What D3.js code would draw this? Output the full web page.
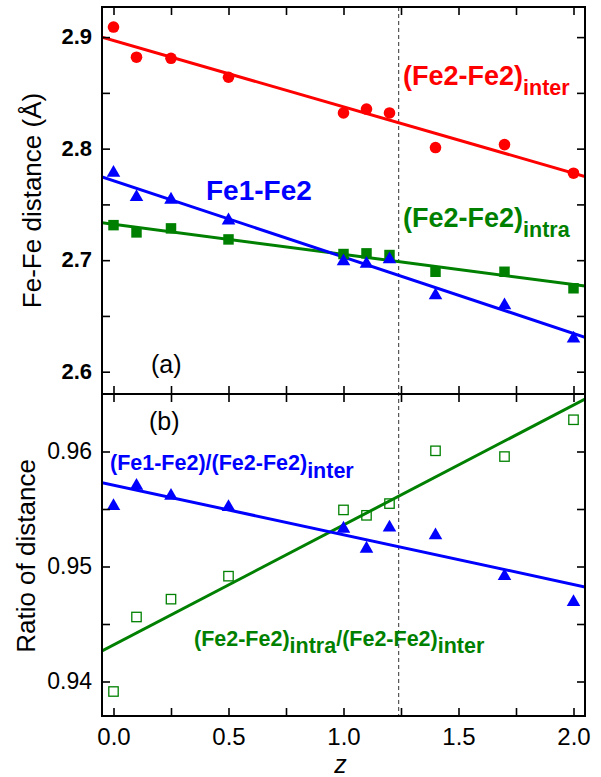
<!DOCTYPE html>
<html>
<head>
<meta charset="utf-8">
<script src="https://cdn.jsdelivr.net/npm/d3@7"></script>
<style>
  body { margin: 0; background: #fff; }
  text { font-family: "Liberation Sans", Arial, sans-serif; }
</style>
</head>
<body>
<div id="chart"></div>
<script>
// data
var zVals = [0, 0.1, 0.25, 0.5, 1.0, 1.1, 1.2, 1.4, 1.7, 2.0];
var interDist = [2.909, 2.882, 2.881, 2.864, 2.832, 2.8355, 2.832, 2.801, 2.8036, 2.778];
var fe1fe2Dist = [2.780, 2.7583, 2.756, 2.7374, 2.7007, 2.6986, 2.7025, 2.6703, 2.6613, 2.6314];
var intraDist = [2.7314, 2.7249, 2.7285, 2.7186, 2.7055, 2.7061, 2.7046, 2.6896, 2.6896, 2.6748];
var ratioFe1 = [0.95542, 0.95718, 0.95631, 0.95535, 0.95346, 0.95172, 0.95355, 0.95289, 0.94934, 0.94707];
var ratioIntra = [0.93913, 0.94561, 0.94716, 0.94916, 0.95492, 0.95445, 0.95547, 0.96006, 0.95956, 0.96276];

// linear fits [intercept, slope]
var interFit = [2.897, -0.0595];
var fe1Fit = [2.7713, -0.0685];
var intraFit = [2.7322, -0.027];
var ratioFe1Fit = [0.95708, -0.00432];
var ratioIntraFit = [0.94318, 0.01043];

var zMark = 1.24;

var xMajor = [0, 0.5, 1.0, 1.5, 2.0];
var xMinor = [0.25, 0.75, 1.25, 1.75];
var yTopMajor = [2.6, 2.7, 2.8, 2.9];
var yTopMinor = [2.65, 2.75, 2.85];
var yBotMajor = [0.94, 0.95, 0.96];
var yBotMinor = [0.945, 0.955];

var red = "#ff0000", blue = "#0000ff", green = "#008000";

var width = 601, height = 777;
var L = 102, R = 585, T = 7, M = 394, B = 716, tk = 8;

var svg = d3.select("#chart").append("svg")
  .attr("width", width).attr("height", height);

var x = d3.scaleLinear().domain([-0.05, 2.05]).range([L, R]);
var yTop = d3.scaleLinear().domain([2.58, 2.927]).range([M, T]);
var yBot = d3.scaleLinear().domain([0.937, 0.965]).range([B, M]);

svg.append("clipPath").attr("id", "clipTop").append("rect")
  .attr("x", L).attr("y", T).attr("width", R - L).attr("height", M - T);
svg.append("clipPath").attr("id", "clipBot").append("rect")
  .attr("x", L).attr("y", M).attr("width", R - L).attr("height", B - M);

// dashed marker line
svg.append("line")
  .attr("x1", x(zMark)).attr("x2", x(zMark))
  .attr("y1", T).attr("y2", B)
  .attr("stroke", "#333").attr("stroke-width", 1)
  .attr("stroke-dasharray", "4,3");

function fitLine(g, scaleY, fit, color) {
  var dom = x.domain();
  g.append("line")
    .attr("x1", x(dom[0])).attr("y1", scaleY(fit[0] + fit[1] * dom[0]))
    .attr("x2", x(dom[1])).attr("y2", scaleY(fit[0] + fit[1] * dom[1]))
    .attr("stroke", color).attr("stroke-width", 3);
}

var gTop = svg.append("g").attr("clip-path", "url(#clipTop)");
var gBot = svg.append("g").attr("clip-path", "url(#clipBot)");

fitLine(gTop, yTop, interFit, red);
fitLine(gTop, yTop, intraFit, green);
fitLine(gTop, yTop, fe1Fit, blue);
fitLine(gBot, yBot, ratioIntraFit, green);
fitLine(gBot, yBot, ratioFe1Fit, blue);

var tri = d3.symbol().type(d3.symbolTriangle).size(80);
var sq = d3.symbol().type(d3.symbolSquare).size(110);

// top panel points
gTop.selectAll(".inter").data(zVals).enter().append("circle")
  .attr("cx", function(d) { return x(d); })
  .attr("cy", function(d, i) { return yTop(interDist[i]); })
  .attr("r", 5.8).attr("fill", red);

gTop.selectAll(".intra").data(zVals).enter().append("path")
  .attr("d", sq)
  .attr("transform", function(d, i) { return "translate(" + x(d) + "," + yTop(intraDist[i]) + ")"; })
  .attr("fill", green);

gTop.selectAll(".fe1").data(zVals).enter().append("path")
  .attr("d", tri)
  .attr("transform", function(d, i) { return "translate(" + x(d) + "," + (yTop(fe1fe2Dist[i]) + 2) + ")"; })
  .attr("fill", blue);

// bottom panel points
gBot.selectAll(".rintra").data(zVals).enter().append("rect")
  .attr("x", function(d) { return x(d) - 4.7; })
  .attr("y", function(d, i) { return yBot(ratioIntra[i]) - 4.7; })
  .attr("width", 9.4).attr("height", 9.4)
  .attr("fill", "none").attr("stroke", green).attr("stroke-width", 1.3);

gBot.selectAll(".rfe1").data(zVals).enter().append("path")
  .attr("d", tri)
  .attr("transform", function(d, i) { return "translate(" + x(d) + "," + (yBot(ratioFe1[i]) + 2) + ")"; })
  .attr("fill", blue);

// axes
function styleAxis(g) {
  g.select(".domain").remove();
  g.selectAll(".tick line").attr("stroke", "#000").attr("stroke-width", 1.6);
}
function addAxis(axis, tx, ty, fontSize, weight) {
  var g = svg.append("g").attr("transform", "translate(" + tx + "," + ty + ")").call(axis);
  styleAxis(g);
  g.selectAll(".tick text").attr("fill", "#000")
    .style("font-family", "'Liberation Sans', Arial, sans-serif")
    .style("font-size", fontSize + "px").style("font-weight", weight);
  return g;
}
var noLab = function() { return ""; };
var xAll = xMajor.concat(xMinor);

// top panel
addAxis(d3.axisLeft(yTop).tickValues(yTopMajor).tickSize(-tk).tickPadding(10).tickFormat(d3.format(".1f")), L, 0, 22, "bold")
  .selectAll(".tick text").attr("dy", "0.3em");
addAxis(d3.axisLeft(yTop).tickValues(yTopMinor).tickSize(-tk).tickFormat(noLab), L, 0, 10, "normal");
addAxis(d3.axisRight(yTop).tickValues(yTopMajor.concat(yTopMinor)).tickSize(-tk).tickFormat(noLab), R, 0, 10, "normal");
addAxis(d3.axisTop(x).tickValues(xAll).tickSize(-tk).tickFormat(noLab), 0, T, 10, "normal");
addAxis(d3.axisBottom(x).tickValues(xAll).tickSize(-tk).tickFormat(noLab), 0, M, 10, "normal");

// bottom panel
addAxis(d3.axisTop(x).tickValues(xAll).tickSize(-tk).tickFormat(noLab), 0, M, 10, "normal");
addAxis(d3.axisLeft(yBot).tickValues(yBotMajor).tickSize(-tk).tickPadding(10).tickFormat(d3.format(".2f")), L, 0, 23, "normal")
  .selectAll(".tick text").attr("dy", "0.32em");
addAxis(d3.axisLeft(yBot).tickValues(yBotMinor).tickSize(-tk).tickFormat(noLab), L, 0, 10, "normal");
addAxis(d3.axisRight(yBot).tickValues(yBotMajor.concat(yBotMinor)).tickSize(-tk).tickFormat(noLab), R, 0, 10, "normal");
addAxis(d3.axisBottom(x).tickValues(xMajor).tickSize(-tk).tickPadding(12).tickFormat(d3.format(".1f")), 0, B, 24, "normal");
addAxis(d3.axisBottom(x).tickValues(xMinor).tickSize(-tk).tickFormat(noLab), 0, B, 10, "normal");

// frames
svg.append("rect").attr("x", L).attr("y", T).attr("width", R - L).attr("height", B - T)
  .attr("fill", "none").attr("stroke", "#000").attr("stroke-width", 2);
svg.append("line").attr("x1", L).attr("x2", R).attr("y1", M).attr("y2", M)
  .attr("stroke", "#000").attr("stroke-width", 2);

// axis titles
svg.append("text").attr("transform", "translate(41," + ((T + M) / 2) + ") rotate(-90)")
  .attr("text-anchor", "middle").style("font-size", "26px").text("Fe-Fe distance (Å)");
svg.append("text").attr("transform", "translate(35," + ((M + B) / 2 + 1) + ") rotate(-90)")
  .attr("text-anchor", "middle").style("font-size", "26px").text("Ratio of distance");
svg.append("text").attr("x", (L + R) / 2 - 3).attr("y", 773).attr("text-anchor", "middle")
  .style("font-size", "25px").style("font-style", "italic").text("z");

svg.append("text").attr("x", 151).attr("y", 373).style("font-size", "25px").text("(a)");
svg.append("text").attr("x", 149).attr("y", 430).style("font-size", "25px").text("(b)");

// series labels
function subLabel(px, py, color, parts, mainSize, subSize, shift) {
  var t = svg.append("text").attr("x", px).attr("y", py)
    .attr("fill", color).style("font-weight", "bold");
  parts.forEach(function(p) {
    t.append("tspan")
      .attr("y", p[1] ? py + shift : py)
      .style("font-size", (p[1] ? subSize : mainSize) + "px")
      .text(p[0]);
  });
}
subLabel(403, 85, red, [["(Fe2-Fe2)", 0], ["inter", 1]], 27, 21.5, 10);
subLabel(403, 227, green, [["(Fe2-Fe2)", 0], ["intra", 1]], 27, 21.5, 10);
subLabel(206, 200, blue, [["Fe1-Fe2", 0]], 28, 28, 0);
subLabel(110, 470, blue, [["(Fe1-Fe2)/(Fe2-Fe2)", 0], ["inter", 1]], 21.5, 21.5, 8);
subLabel(194, 646, green, [["(Fe2-Fe2)", 0], ["intra", 1], ["/(Fe2-Fe2)", 0], ["inter", 1]], 21.5, 21.5, 7);
</script>
</body>
</html>
